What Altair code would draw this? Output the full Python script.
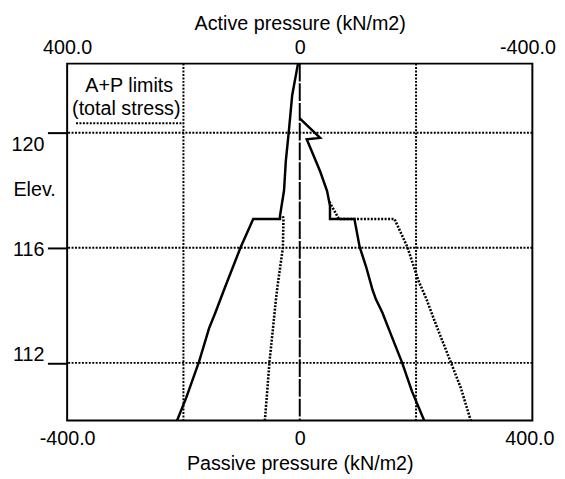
import altair as alt
import pandas as pd

# ---- data ----
left_solid_x = [-3, -13, -19, -24, -27, -34, -34, -80, -102, -130, -145, -156, -173, -195, -211]
left_solid_y = [122.4, 121.3, 120.0, 119.0, 118.0, 117.1, 117.0, 117.0, 116.0, 114.55, 113.75, 113.2, 112.05, 110.8, 110.0]

right_solid_x = [0, 35, 12, 21, 35, 47, 52, 52, 94, 103, 114, 125, 131, 142, 162, 176, 193, 214]
right_solid_y = [120.5, 119.82, 119.77, 119.34, 118.66, 117.97, 117.46, 117.0, 117.0, 116.03, 115.35, 114.55, 114.21, 113.75, 112.72, 112.01, 111.01, 110.0]

left_dotted_x = [-29, -28, -29, -38, -41, -46, -52, -56, -60]
left_dotted_y = [117.1, 117.0, 116.0, 114.7, 114.2, 113.2, 112.05, 111.0, 110.0]

right_dotted_x = [51, 66, 67, 163, 185, 204, 218, 235, 260, 277, 294]
right_dotted_y = [117.6, 117.05, 117.0, 117.0, 116.03, 114.86, 114.21, 113.29, 112.01, 111.13, 110.0]

grid_elev = [112, 116, 120]
grid_press = [-200, 200]
wall_x = [0]

x_tick_values = [-400, 0, 400]
y_tick_values = [120, 116, 112]
y_tick_labels = ["120", "116", "112"]
y_label_dy = [19, 8, -2]

legend_lines = ["A+P limits", "(total stress)"]

FONT = "Liberation Sans"
FS = 20


def frame(name, xs, ys):
    return pd.DataFrame({"series": name, "x": xs, "y": ys, "order": list(range(len(xs)))})


solid_df = pd.concat([frame("ls", left_solid_x, left_solid_y), frame("rs", right_solid_x, right_solid_y)])
dotted_df = pd.concat([frame("ld", left_dotted_x, left_dotted_y), frame("rd", right_dotted_x, right_dotted_y)])

xs = alt.Scale(domain=[-400, 400], nice=False, zero=False)
ys = alt.Scale(domain=[110, 122.4], nice=False, zero=False)

bottom_expr = "datum.value == 0 ? '0' : (datum.value < 0 ? '-' : '') + format(abs(datum.value), '.1f')"
top_expr = "datum.value == 0 ? '0' : (datum.value > 0 ? '-' : '') + format(abs(datum.value), '.1f')"

bottom_axis = alt.Axis(
    orient="bottom", values=x_tick_values, labelExpr=bottom_expr,
    title="Passive pressure (kN/m2)", ticks=False, tickSize=0, domain=False, grid=False,
    labelFlush=False, labelOverlap=False, labelPadding=8, titlePadding=6,
    labelOffset={"condition": {"test": "datum.value == 400", "value": -3}, "value": 0},
    labelFont=FONT, labelFontSize=FS, labelColor="black",
    titleFont=FONT, titleFontSize=FS, titleFontWeight="normal", titleColor="black",
)
top_axis = alt.Axis(
    orient="top", values=x_tick_values, labelExpr=top_expr,
    title="Active pressure (kN/m2)", ticks=False, tickSize=0, domain=False, grid=False,
    labelFlush=False, labelOverlap=False, labelPadding=6, titlePadding=5,
    labelOffset={"condition": {"test": "datum.value == 400", "value": -5}, "value": 0},
    labelFont=FONT, labelFontSize=FS, labelColor="black",
    titleFont=FONT, titleFontSize=FS, titleFontWeight="normal", titleColor="black",
)
y_axis = alt.Axis(
    values=y_tick_values, labels=False, ticks=True, tickSize=20, tickWidth=2, tickColor="black",
    domain=False, grid=False, title=None,
)

DOT = [2, 1.5]

hgrid = alt.Chart(pd.DataFrame({"y": grid_elev})).mark_rule(
    color="black", strokeWidth=2, strokeDash=DOT
).encode(y=alt.Y("y:Q", scale=ys, axis=y_axis))

vgrid = alt.Chart(pd.DataFrame({"x": grid_press})).mark_rule(
    color="black", strokeWidth=2, strokeDash=DOT
).encode(x=alt.X("x:Q", scale=xs, axis=None))

wall = alt.Chart(pd.DataFrame({"x": wall_x})).mark_rule(
    color="black", strokeWidth=2, strokeDash=[18, 2]
).encode(x=alt.X("x:Q", scale=xs, axis=None))

dotted = alt.Chart(dotted_df).mark_line(color="black", strokeWidth=2.6, strokeDash=DOT).encode(
    x=alt.X("x:Q", scale=xs, axis=top_axis),
    y=alt.Y("y:Q", scale=ys, axis=None),
    detail="series:N",
    order="order:Q",
)

solid = alt.Chart(solid_df).mark_line(color="black", strokeWidth=2.5).encode(
    x=alt.X("x:Q", scale=xs, axis=bottom_axis),
    y=alt.Y("y:Q", scale=ys, axis=None),
    detail="series:N",
    order="order:Q",
)

layers = [hgrid, vgrid, wall, dotted, solid]

# y tick labels (each sits differently against its tick, as in the reference)
for val, lab, dy in zip(y_tick_values, y_tick_labels, y_label_dy):
    layers.append(
        alt.Chart(pd.DataFrame({"y": [val], "t": [lab]})).mark_text(
            font=FONT, fontSize=FS, align="right", baseline="alphabetic", dy=dy, color="black"
        ).encode(x=alt.value(-23), y=alt.Y("y:Q", scale=ys, axis=None), text="t:N")
    )

layers.append(
    alt.Chart(pd.DataFrame({"t": ["Elev."]})).mark_text(
        font=FONT, fontSize=FS, align="center", baseline="alphabetic", color="black"
    ).encode(x=alt.value(-33), y=alt.value(134), text="t:N")
)

# legend inside the plot
layers.append(
    alt.Chart(pd.DataFrame({"t": [legend_lines[0]]})).mark_text(
        font=FONT, fontSize=FS, align="center", baseline="alphabetic", color="black"
    ).encode(x=alt.value(63), y=alt.value(29), text="t:N")
)
layers.append(
    alt.Chart(pd.DataFrame({"t": [legend_lines[1]]})).mark_text(
        font=FONT, fontSize=FS, align="center", baseline="alphabetic", color="black"
    ).encode(x=alt.value(60), y=alt.value(52), text="t:N")
)
layers.append(
    alt.Chart(pd.DataFrame({"s": ["A+P"]})).mark_rule(color="black", strokeWidth=2, strokeDash=DOT).encode(
        x=alt.value(9), x2=alt.value(118), y=alt.value(60.5)
    )
)

chart = alt.layer(*layers).resolve_scale(x="shared", y="shared").resolve_axis(
    x="independent", y="independent"
).properties(
    width=472,
    height=362,
    autosize=alt.AutoSizeParams(type="none"),
    padding={"left": 60, "top": 53, "right": 25, "bottom": 58},
    background="white",
).configure(font=FONT).configure_view(stroke="black", strokeWidth=2)

chart.save("out.html", embed_options={"renderer": "svg", "actions": False})
